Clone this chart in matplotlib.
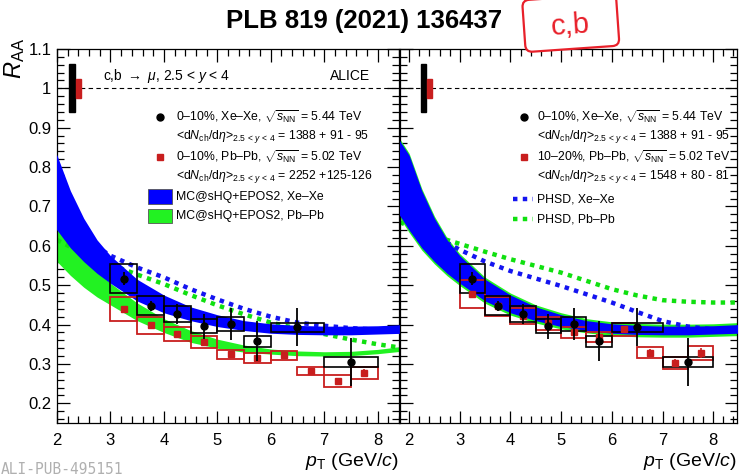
import matplotlib
matplotlib.use('Agg')
import matplotlib.pyplot as plt
from matplotlib.patches import Rectangle, FancyBboxPatch
from matplotlib.ticker import MultipleLocator, FuncFormatter
from matplotlib.transforms import Affine2D

plt.rcParams['font.family'] = ['Liberation Sans', 'DejaVu Sans']
plt.rcParams['mathtext.fontset'] = 'custom'
plt.rcParams['mathtext.rm'] = 'Liberation Sans'
plt.rcParams['mathtext.it'] = 'Liberation Sans:italic'
plt.rcParams['mathtext.bf'] = 'Liberation Sans:bold'

# ---- data: Xe-Xe 0-10% (same in both panels)
pt_xexe = [3.25, 3.75, 4.25, 4.75, 5.25, 5.75, 6.5, 7.5]
dpt_xexe = [0.25, 0.25, 0.25, 0.25, 0.25, 0.25, 0.5, 0.5]
raa_xexe = [0.517, 0.448, 0.427, 0.396, 0.401, 0.358, 0.393, 0.305]
stat_xexe = [0.016, 0.013, 0.025, 0.032, 0.040, 0.050, 0.048, 0.060]
syst_xexe = [0.037, 0.024, 0.020, 0.017, 0.017, 0.014, 0.012, 0.012]

# ---- Pb-Pb (0.5 GeV/c bins)
pt_pbpb = [3.25, 3.75, 4.25, 4.75, 5.25, 5.75, 6.25, 6.75, 7.25, 7.75]
dpt_pbpb = [0.25, 0.25, 0.25, 0.25, 0.25, 0.25, 0.25, 0.25, 0.25, 0.25]
raa_pbpb_010 = [0.439, 0.398, 0.376, 0.355, 0.324, 0.315, 0.322, 0.282, 0.257, 0.277]
stat_pbpb_010 = [0.006, 0.005, 0.005, 0.005, 0.005, 0.006, 0.006, 0.007, 0.008, 0.009]
syst_pbpb_010 = [0.030, 0.021, 0.018, 0.015, 0.012, 0.012, 0.011, 0.011, 0.015, 0.014]
raa_pbpb_1020 = [0.477, 0.446, 0.422, 0.403, 0.380, 0.369, 0.388, 0.329, 0.302, 0.327]
stat_pbpb_1020 = [0.008, 0.007, 0.007, 0.008, 0.008, 0.009, 0.009, 0.010, 0.011, 0.013]
syst_pbpb_1020 = [0.035, 0.025, 0.020, 0.017, 0.015, 0.012, 0.016, 0.013, 0.016, 0.018]

# normalisation uncertainties
norm_xexe = 0.061
norm_pbpb = 0.024

# ---- MC@sHQ+EPOS2 bands
mc_pt = [1.8, 2.0, 2.25, 2.5, 2.75, 3.0, 3.5, 4.0, 4.5, 5.0, 5.5, 6.0, 6.5, 7.0, 7.5, 8.0, 8.5]
mc_xexe_hi = [0.87, 0.83, 0.74, 0.67, 0.615, 0.575, 0.515, 0.475, 0.445, 0.425, 0.41, 0.402, 0.398, 0.396, 0.396, 0.397, 0.40]
mc_xexe_lo = [0.68, 0.64, 0.595, 0.56, 0.53, 0.505, 0.46, 0.43, 0.41, 0.395, 0.385, 0.378, 0.375, 0.374, 0.374, 0.376, 0.378]
mc_pbpb010_hi = [0.68, 0.65, 0.60, 0.565, 0.535, 0.505, 0.455, 0.415, 0.385, 0.363, 0.348, 0.338, 0.333, 0.331, 0.332, 0.337, 0.345]
mc_pbpb010_lo = [0.59, 0.56, 0.525, 0.495, 0.47, 0.45, 0.41, 0.38, 0.355, 0.34, 0.33, 0.325, 0.321, 0.32, 0.321, 0.326, 0.333]
mc_pbpb1020_hi = [0.875, 0.835, 0.745, 0.675, 0.62, 0.58, 0.52, 0.48, 0.45, 0.43, 0.415, 0.407, 0.403, 0.401, 0.401, 0.402, 0.405]
mc_pbpb1020_lo = [0.674, 0.634, 0.589, 0.554, 0.524, 0.499, 0.454, 0.424, 0.404, 0.389, 0.379, 0.372, 0.369, 0.368, 0.368, 0.37, 0.372]

# ---- PHSD curves
phsd_l_x = [2.0, 2.5, 3.0, 3.5, 4.0, 4.5, 5.0, 5.5, 6.0, 6.5, 7.0, 7.5, 8.0, 8.4]
phsd_l_xexe = [0.68, 0.62, 0.575, 0.545, 0.52, 0.49, 0.464, 0.44, 0.42, 0.405, 0.397, 0.391, 0.387, 0.386]
phsd_l_pbpb = [0.615, 0.58, 0.553, 0.527, 0.503, 0.475, 0.449, 0.426, 0.405, 0.39, 0.376, 0.362, 0.35, 0.342]
phsd_r_x = [1.82, 2.0, 2.5, 3.0, 3.5, 4.0, 4.5, 5.0, 5.5, 6.0, 6.5, 7.0, 7.5, 8.0, 8.47]
phsd_r_xexe = [0.70, 0.68, 0.625, 0.59, 0.56, 0.536, 0.517, 0.498, 0.477, 0.456, 0.432, 0.409, 0.395, 0.388, 0.386]
phsd_r_pbpb = [0.66, 0.65, 0.625, 0.605, 0.585, 0.566, 0.549, 0.532, 0.511, 0.49, 0.474, 0.462, 0.458, 0.456, 0.456]

BLUE = '#0000ff'
GREEN = '#22f222'
RED = '#c81e1e'
PHSD_BLUE = '#1414f0'
PHSD_GREEN = '#10e010'
DOT = (0, (1, 1.2))

fig = plt.figure(figsize=(7.43, 4.76), dpi=100)
axL = fig.add_axes([57 / 743, 53 / 476, 342 / 743, 374 / 476])
axR = fig.add_axes([400 / 743, 53 / 476, 337 / 743, 374 / 476])


def draw_boxes(ax, x, dx, y, s, color, lw, z):
    for xi, dxi, yi, si in zip(x, dx, y, s):
        ax.add_patch(Rectangle((xi - dxi, yi - si), 2 * dxi, 2 * si, fill=False,
                               ec=color, lw=lw, zorder=z))


def panel(ax, pb_raa, pb_stat, pb_syst, pb_hi, pb_lo, phx, ph_xexe, ph_pbpb):
    ax.axhline(1, color='k', ls=(0, (4, 3)), lw=0.8, zorder=1)
    ax.fill_between(mc_pt, pb_lo, pb_hi, color=GREEN, lw=0, zorder=2)
    ax.plot(phx, ph_xexe, color=PHSD_BLUE, ls=DOT, lw=3.2, zorder=2.5)
    ax.plot(phx, ph_pbpb, color=PHSD_GREEN, ls=DOT, lw=3.2, zorder=2.5)
    ax.fill_between(mc_pt, mc_xexe_lo, mc_xexe_hi, color=BLUE, lw=0, zorder=3)
    draw_boxes(ax, pt_pbpb, dpt_pbpb, pb_raa, pb_syst, RED, 1.3, 5)
    draw_boxes(ax, pt_xexe, dpt_xexe, raa_xexe, syst_xexe, 'k', 1.2, 6)
    ax.errorbar(pt_pbpb, pb_raa, yerr=pb_stat, fmt='s', color=RED, ms=4.5,
                elinewidth=1.2, capsize=0, zorder=7)
    ax.errorbar(pt_xexe, raa_xexe, yerr=stat_xexe, fmt='o', color='k', ms=5,
                elinewidth=1.3, capsize=0, zorder=8)
    ax.add_patch(Rectangle((2.23, 1 - norm_xexe), 0.1, 2 * norm_xexe, color='k', zorder=6))
    ax.add_patch(Rectangle((2.35, 1 - norm_pbpb), 0.1, 2 * norm_pbpb, color=RED, zorder=6))

    ax.set_ylim(0.15, 1.1)
    ax.xaxis.set_major_locator(MultipleLocator(1))
    ax.xaxis.set_minor_locator(MultipleLocator(0.2))
    ax.yaxis.set_major_locator(MultipleLocator(0.1))
    ax.yaxis.set_minor_locator(MultipleLocator(0.02))
    ax.tick_params(which='both', direction='in', top=True, right=True, labelsize=12)
    ax.tick_params(which='major', length=9, width=0.9)
    ax.tick_params(which='minor', length=5, width=0.9)
    ax.tick_params(axis='x', pad=7)
    ax.tick_params(axis='y', pad=4)
    ax.yaxis.set_major_formatter(FuncFormatter(lambda v, p: f'{round(v, 2):g}'))
    ax.set_xlabel(r'$p_{\mathrm{T}}$ (GeV/$c$)', fontsize=14, loc='right')
    ax.xaxis.set_label_coords(1.0, -0.075)
    for sp in ax.spines.values():
        sp.set_linewidth(0.9)


panel(axL, raa_pbpb_010, stat_pbpb_010, syst_pbpb_010, mc_pbpb010_hi, mc_pbpb010_lo,
      phsd_l_x, phsd_l_xexe, phsd_l_pbpb)
panel(axR, raa_pbpb_1020, stat_pbpb_1020, syst_pbpb_1020, mc_pbpb1020_hi, mc_pbpb1020_lo,
      phsd_r_x, phsd_r_xexe, phsd_r_pbpb)
axL.set_xlim(2, 8.4)
axR.set_xlim(1.82, 8.47)
axR.tick_params(labelleft=False)

# ---- legends and header (positions in pixels of the 743x476 picture)
fs = 8.8


def ly(py):
    return (423 - py) / 374


def lxL(px):
    return (px - 57) / 342


def lxR(px):
    return (px - 400) / 337


axL.text(lxL(103), ly(76), r'c,b $\rightarrow$ $\mu$, 2.5 < $y$ < 4', transform=axL.transAxes,
         fontsize=10, va='center')
axL.text(lxL(370), ly(76), 'ALICE', transform=axL.transAxes, fontsize=10, va='center', ha='right')

sqrt_xe = r'$\sqrt{s_{\mathrm{NN}}}$ = 5.44 TeV'
sqrt_pb = r'$\sqrt{s_{\mathrm{NN}}}$ = 5.02 TeV'
dn = r'<d$N_{\mathrm{ch}}$/d$\eta$>$_{2.5\,<\,y\,<\,4}$'

for ax, lx, lines, red_label in (
        (axL, lxL, [dn + ' = 1388 + 91 - 95', dn + ' = 2252 +125-126'], '0–10%, Pb–Pb, '),
        (axR, lxR, [dn + ' = 1388 + 91 - 95', dn + ' = 1548 + 80 - 81'], '10–20%, Pb–Pb, ')):
    mx = 160 if ax is axL else 524
    tx = 176 if ax is axL else 537
    ax.plot([lx(mx)], [ly(117)], 'o', color='k', ms=5, transform=ax.transAxes, clip_on=False)
    ax.plot([lx(mx)], [ly(157)], 's', color=RED, ms=4.5, transform=ax.transAxes, clip_on=False)
    ax.text(lx(tx), ly(117), '0–10%, Xe–Xe, ' + sqrt_xe, transform=ax.transAxes, fontsize=fs, va='center')
    ax.text(lx(tx), ly(137), lines[0], transform=ax.transAxes, fontsize=fs, va='center')
    ax.text(lx(tx), ly(157), red_label + sqrt_pb, transform=ax.transAxes, fontsize=fs, va='center')
    ax.text(lx(tx), ly(177), lines[1], transform=ax.transAxes, fontsize=fs, va='center')

axL.add_patch(Rectangle((lxL(148), ly(204)), lxL(172) - lxL(148), ly(189) - ly(204),
                        transform=axL.transAxes, fc=BLUE, ec='#555555', lw=0.6, zorder=9))
axL.add_patch(Rectangle((lxL(148), ly(223)), lxL(172) - lxL(148), ly(209) - ly(223),
                        transform=axL.transAxes, fc=GREEN, ec='#555555', lw=0.6, zorder=9))
axL.text(lxL(176), ly(197), 'MC@sHQ+EPOS2, Xe–Xe', transform=axL.transAxes, fontsize=fs, va='center')
axL.text(lxL(176), ly(216), 'MC@sHQ+EPOS2, Pb–Pb', transform=axL.transAxes, fontsize=fs, va='center')

axR.plot([lxR(513), lxR(533)], [ly(199), ly(199)], color=PHSD_BLUE, ls=DOT, lw=3.2,
         transform=axR.transAxes)
axR.plot([lxR(513), lxR(533)], [ly(219), ly(219)], color=PHSD_GREEN, ls=DOT, lw=3.2,
         transform=axR.transAxes)
axR.text(lxR(537), ly(199), 'PHSD, Xe–Xe', transform=axR.transAxes, fontsize=fs, va='center')
axR.text(lxR(537), ly(219), 'PHSD, Pb–Pb', transform=axR.transAxes, fontsize=fs, va='center')

# ---- figure texts
fig.text(364 / 743, 1 - 21 / 476, 'PLB 819 (2021) 136437', fontsize=18.5, fontweight='bold',
         ha='center', va='center')
fig.text(15 / 743, 1 - 38 / 476, r'$R_{\mathrm{AA}}$', fontsize=17, rotation=90,
         ha='center', va='top')
fig.text(1 / 743, 1 - 462 / 476, 'ALI-PUB-495151', fontsize=10.5, family='DejaVu Sans Mono',
         color='#b0b0b0', va='top', ha='left')

# handwritten "c,b" tag
tag_tr = Affine2D().rotate_deg_around(5.70, 4.5, 4) + fig.dpi_scale_trans
fig.add_artist(FancyBboxPatch((5.24, 4.27), 0.94, 0.52, boxstyle='round,pad=0,rounding_size=0.07',
                              transform=tag_tr, fc='white', ec='#e8202a', lw=1.6))
fig.text(5.70, 4.50, 'c,b', transform=fig.dpi_scale_trans, fontsize=21, color='#e8202a',
         ha='center', va='center', rotation=4)

fig.savefig('out.png', dpi=100)
